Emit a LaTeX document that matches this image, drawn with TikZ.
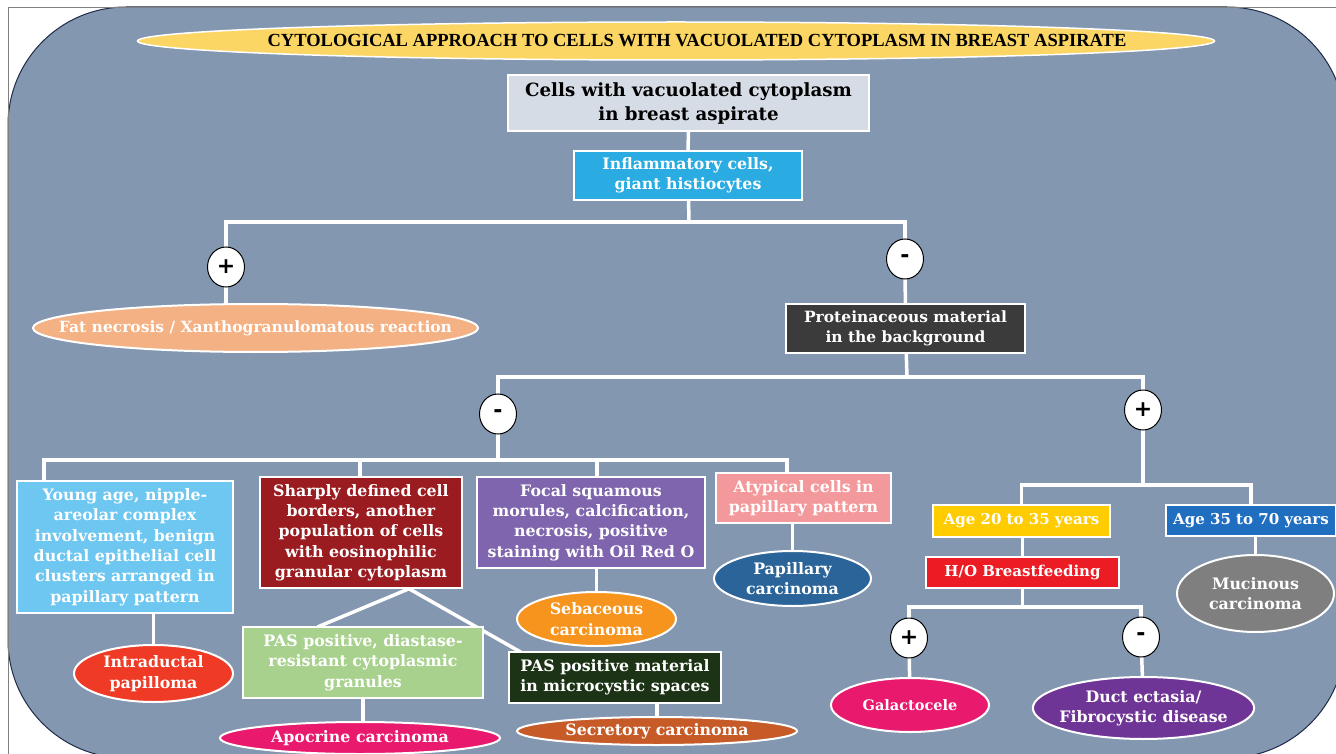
\documentclass[tikz,border=0pt]{standalone}
\usepackage{fontspec}
\setmainfont{DejaVu Serif}
\newfontfamily\titlefont{Liberation Serif}
\newfontfamily\signfont{DejaVu Sans}
\usetikzlibrary{shapes.geometric,backgrounds}

\definecolor{panel}{RGB}{132,151,176}
\definecolor{panelrim}{RGB}{30,42,72}
\definecolor{titlegold}{RGB}{252,214,100}
\definecolor{startgray}{RGB}{214,220,229}
\definecolor{inflblue}{RGB}{42,172,226}
\definecolor{fatpeach}{RGB}{244,177,131}
\definecolor{protdark}{RGB}{59,59,59}
\definecolor{youngblue}{RGB}{109,199,241}
\definecolor{sharpred}{RGB}{155,28,32}
\definecolor{focalpurple}{RGB}{127,101,173}
\definecolor{atyppink}{RGB}{244,153,155}
\definecolor{intrared}{RGB}{239,59,37}
\definecolor{pasgreen}{RGB}{169,209,142}
\definecolor{pasdark}{RGB}{28,51,22}
\definecolor{magenta}{RGB}{233,25,110}
\definecolor{secrbrown}{RGB}{198,91,40}
\definecolor{sebgold}{RGB}{247,148,29}
\definecolor{papblue}{RGB}{43,100,153}
\definecolor{ageyellow}{RGB}{255,204,0}
\definecolor{ageblue}{RGB}{31,110,191}
\definecolor{hored}{RGB}{236,28,36}
\definecolor{ductpurple}{RGB}{111,53,150}
\definecolor{mucgray}{RGB}{127,127,127}

\begin{document}
\begin{tikzpicture}[x=1pt,y=-1pt,
  box/.style={draw=white,line width=1.5pt,text=white,align=center,inner sep=0pt,
    font=\bfseries\fontsize{15.8}{20.3}\selectfont},
  oval/.style={ellipse,draw=white,line width=2pt,text=white,align=center,inner sep=0pt,
    inner xsep=-6pt,font=\bfseries\fontsize{15.8}{20.3}\selectfont},
  sign/.style={ellipse,draw=black,fill=white,line width=1pt,minimum width=37pt,
    minimum height=40pt,inner sep=0pt,font=\signfont\bfseries\fontsize{22}{22}\selectfont},
  link/.style={draw=white,line width=3.5pt,line cap=rect}]

\useasboundingbox (0,0) rectangle (1336,754);

\begin{scope}[on background layer]
  \fill[white] (0,0) rectangle (1336,754);
  \draw[panelrim,fill=panel,line width=1pt,rounded corners=118pt] (8,7) rectangle (1345,758);
  \draw[gray,line width=0.8pt] (8,754) -- (8,7) -- (1336,7);
\end{scope}

% title and start
\node[ellipse,draw=white,line width=1.5pt,fill=titlegold,minimum width=1077pt,minimum height=38pt,
  inner sep=0pt,inner xsep=-90pt,font=\titlefont\bfseries\fontsize{18.5}{18.5}\selectfont] (title) at (676,41)
  {\hspace*{42pt}CYTOLOGICAL APPROACH TO CELLS WITH VACUOLATED CYTOPLASM IN BREAST ASPIRATE};
\node[box,fill=startgray,text=black,minimum width=361pt,minimum height=56pt,
  font=\bfseries\fontsize{18.2}{24}\selectfont] (cells) at (688.5,103)
  {Cells with vacuolated cytoplasm\\in breast aspirate};
\node[box,fill=inflblue,minimum width=228pt,minimum height=49pt] (infl) at (688,175.5)
  {Inflammatory cells,\\giant histiocytes};

\node[sign] (plusA) at (226,267) {+};
\node[sign] (minusA) at (905,259) {-};
\node[oval,fill=fatpeach,minimum width=445pt,minimum height=48pt,inner xsep=-42pt,
  font=\bfseries\fontsize{15.5}{20}\selectfont] (fat) at (255.5,328)
  {Fat necrosis / Xanthogranulomatous reaction};
\node[box,fill=protdark,minimum width=239pt,minimum height=49pt,
  font=\bfseries\fontsize{15.5}{20}\selectfont] (prot) at (905.5,328.5)
  {Proteinaceous material\\in the background};

\node[sign] (minusB) at (498,414) {-};
\node[sign] (plusB) at (1143,410) {+};

% negative branch
\node[box,fill=youngblue,minimum width=216pt,minimum height=132pt] (young) at (125,547)
  {Young age, nipple-\\areolar complex\\involvement, benign\\ductal epithelial cell\\clusters arranged in\\papillary pattern};
\node[box,fill=sharpred,minimum width=202pt,minimum height=111pt] (sharp) at (361,532.5)
  {Sharply defined cell\\borders, another\\population of cells\\with eosinophilic\\granular cytoplasm};
\node[box,fill=focalpurple,minimum width=228pt,minimum height=91pt] (focal) at (591,522.5)
  {Focal squamous\\morules, calcification,\\necrosis, positive\\staining with Oil Red O};
\node[box,fill=atyppink,minimum width=175pt,minimum height=50pt] (atyp) at (803.5,498)
  {Atypical cells in\\papillary pattern};

\node[oval,fill=intrared,minimum width=159pt,minimum height=57pt] (intra) at (153.5,673.5)
  {Intraductal\\papilloma};
\node[box,fill=pasgreen,minimum width=240pt,minimum height=71pt] (pasA) at (363,662.5)
  {PAS positive, diastase-\\resistant cytoplasmic\\granules};
\node[box,fill=pasdark,minimum width=212pt,minimum height=51pt] (pasB) at (615,677.5)
  {PAS positive material\\in microcystic spaces};
\node[oval,fill=magenta,minimum width=280pt,minimum height=32pt] (apoc) at (360,738)
  {Apocrine carcinoma};
\node[oval,fill=secrbrown,minimum width=280pt,minimum height=28pt] (secr) at (657,731)
  {Secretory carcinoma};
\node[oval,fill=sebgold,minimum width=159pt,minimum height=54pt] (seb) at (596.5,619)
  {Sebaceous\\carcinoma};
\node[oval,fill=papblue,minimum width=157pt,minimum height=55pt] (papc) at (792.5,578.5)
  {Papillary\\carcinoma};

% positive branch
\node[box,fill=ageyellow,minimum width=177pt,minimum height=32pt,
  font=\bfseries\fontsize{15}{20}\selectfont] (ageA) at (1021.5,521)
  {Age 20 to 35 years};
\node[box,fill=ageblue,minimum width=170pt,minimum height=31pt,
  font=\bfseries\fontsize{15}{20}\selectfont] (ageB) at (1251,520.5)
  {Age 35 to 70 years};
\node[box,fill=hored,minimum width=193pt,minimum height=31pt,
  font=\bfseries\fontsize{15}{20}\selectfont] (hob) at (1022.5,572.5)
  {H/O Breastfeeding};
\node[sign] (plusC) at (909,638) {+};
\node[sign] (minusC) at (1141,637) {-};
\node[oval,fill=magenta,minimum width=158pt,minimum height=54pt,
  font=\bfseries\fontsize{14.5}{20}\selectfont] (gal) at (910,705)
  {Galactocele};
\node[oval,fill=ductpurple,minimum width=219pt,minimum height=62pt] (duct) at (1143.5,708)
  {Duct ectasia/\\Fibrocystic disease};
\node[oval,fill=mucgray,minimum width=157pt,minimum height=77pt] (muc) at (1255.5,593.5)
  {Mucinous\\carcinoma};

\begin{scope}[on background layer]
  \coordinate (jA) at (689,222);
  \coordinate (jB) at (907,377);
  \coordinate (jC) at (498,460);
  \coordinate (jD) at (1143,485);
  \coordinate (jE) at (1022.5,607);

  \draw[link] (cells) -- (infl);
  \draw[link] (infl) -- (jA);
  \draw[link] (plusA) |- (jA) -| (minusA);
  \draw[link] (plusA) -- (plusA |- fat);
  \draw[link] (minusA) -- (prot);
  \draw[link] (prot) -- (jB);
  \draw[link] (minusB) |- (jB) -| (plusB);
  \draw[link] (minusB) -- (jC);

  \foreach \n/\x in {young/44,sharp/360,focal/597,atyp/787}
  {
    \coordinate (top\n) at (\x,460);
    \draw[link] (top\n) -- (top\n |- \n.center);
  }
  \draw[link] (topyoung) -- (topatyp);

  \draw[link] (intra |- young) -- (intra);
  \coordinate (apex) at ([xshift=48pt]sharp.south);
  \draw[link] ([xshift=77pt]pasA.north west) -- (apex) -- ([xshift=11pt]pasB.north west);
  \draw[link] (pasA) -- (pasA |- apoc);
  \draw[link] (secr |- pasB) -- (secr);
  \draw[link] (seb |- focal) -- (seb);
  \draw[link] (papc |- atyp) -- (papc);

  \draw[link] (plusB) -- (jD);
  \draw[link] (ageA) |- (jD) -| (ageB);
  \draw[link] (hob |- ageA) -- (hob);
  \draw[link] (hob) -- (jE);
  \draw[link] (plusC) |- (jE) -| (minusC);
  \draw[link] (plusC) -- (gal);
  \draw[link] (minusC) -- (duct);
  \draw[link] (muc |- ageB) -- (muc);
\end{scope}

\end{tikzpicture}
\end{document}
